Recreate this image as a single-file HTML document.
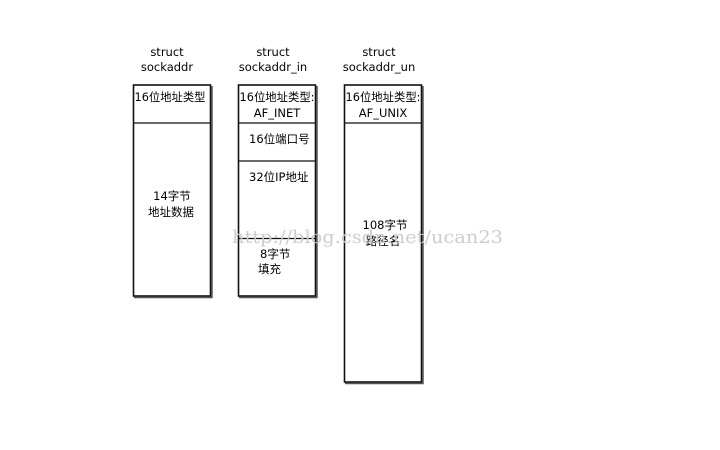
<!DOCTYPE html>
<html><head><meta charset="utf-8"><style>
html,body{margin:0;padding:0;background:#fff;}
svg{display:block}
text{font-family:"DejaVu Sans","Noto Sans CJK SC",sans-serif;font-size:11.5px;fill:#000}
.wm{font-family:"DejaVu Serif","Liberation Serif",serif;font-size:18px;fill:#cdcdcd}
</style></head><body>
<svg width="720" height="450" xmlns="http://www.w3.org/2000/svg">
<text x="167" y="56" text-anchor="middle">struct</text>
<text x="167" y="71" text-anchor="middle">sockaddr</text>
<text x="273" y="56" text-anchor="middle">struct</text>
<text x="273" y="71" text-anchor="middle">sockaddr_in</text>
<text x="379" y="56" text-anchor="middle">struct</text>
<text x="379" y="71" text-anchor="middle">sockaddr_un</text>

<g fill="none" stroke="#555" stroke-width="1.5">
<polyline points="212,86 212,297.5 134,297.5"/>
<polyline points="317,86 317,297.5 239,297.5"/>
<polyline points="423,86 423,383.5 345,383.5"/>
</g>
<g fill="#fff" stroke="#111" stroke-width="1.6">
<rect x="133.5" y="85" width="77" height="211"/>
<rect x="238.5" y="85" width="77" height="211"/>
<rect x="344.5" y="85" width="77" height="297"/>
</g>
<g stroke="#111" stroke-width="1.2">
<line x1="133.5" y1="123" x2="210.5" y2="123"/>
<line x1="238.5" y1="123" x2="315.5" y2="123"/>
<line x1="238.5" y1="161" x2="315.5" y2="161"/>
<line x1="238.5" y1="238.5" x2="315.5" y2="238.5"/>
<line x1="344.5" y1="123" x2="421.5" y2="123"/>
</g>

<text x="134.5" y="101" textLength="71" lengthAdjust="spacingAndGlyphs">16位地址类型</text>
<text x="172" y="200" text-anchor="middle">14字节</text>
<text x="171" y="216" text-anchor="middle">地址数据</text>

<text x="239.5" y="101" textLength="75" lengthAdjust="spacingAndGlyphs">16位地址类型:</text>
<text x="277" y="117" text-anchor="middle">AF_INET</text>
<text x="249" y="143">16位端口号</text>
<text x="249" y="181">32位IP地址</text>
<text x="260" y="258">8字节</text>
<text x="258" y="273">填充</text>

<text x="345.5" y="101" textLength="75" lengthAdjust="spacingAndGlyphs">16位地址类型:</text>
<text x="383" y="117" text-anchor="middle">AF_UNIX</text>
<text x="385" y="229" text-anchor="middle">108字节</text>
<text x="383" y="245" text-anchor="middle">路径名</text>

<text class="wm" x="232" y="243" textLength="271" lengthAdjust="spacingAndGlyphs">http://blog.csdn.net/ucan23</text>
</svg>
</body></html>
